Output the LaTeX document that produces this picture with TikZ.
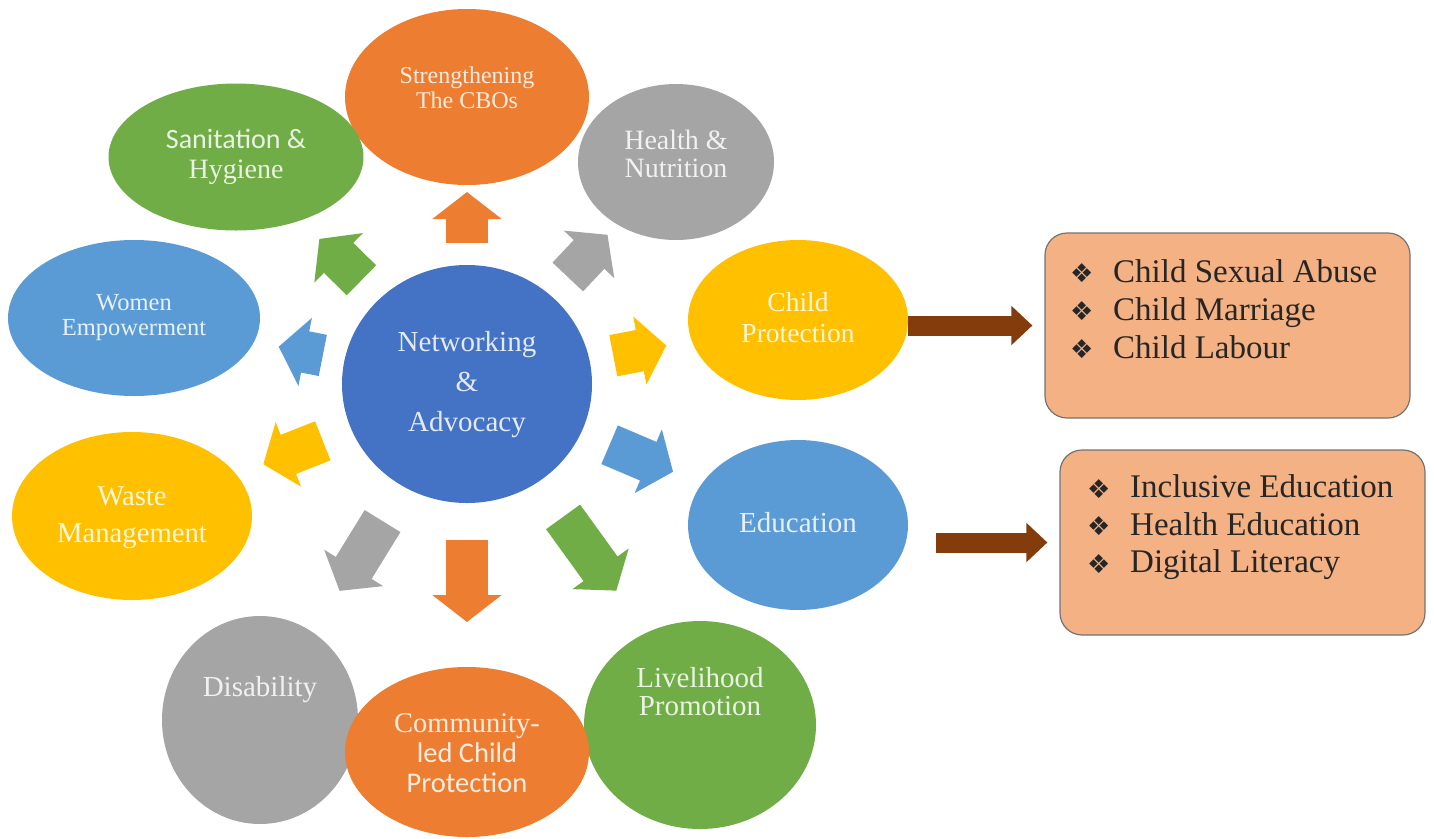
\documentclass[tikz,border=0pt]{standalone}
\usepackage{fontspec}
\setmainfont{Liberation Serif}
\newfontfamily\calib{Carlito}
\newfontfamily\djv{DejaVu Sans}
\usetikzlibrary{shapes.geometric,arrows.meta,calc}
\definecolor{orng}{HTML}{ED7D31}
\definecolor{gry}{HTML}{A5A5A5}
\definecolor{ylw}{HTML}{FFC000}
\definecolor{lblu}{HTML}{5B9BD5}
\definecolor{grn}{HTML}{70AD47}
\definecolor{dblu}{HTML}{4472C4}
\definecolor{peach}{HTML}{F4B183}
\definecolor{brwn}{HTML}{843C0C}
\newcommand\fs[2]{\fontsize{#1}{#2}\selectfont}
\newcommand\bul{\makebox[43pt][l]{\raisebox{-0.5pt}{\djv\fs{26}{26}\char"2756}}}

\begin{document}
\begin{tikzpicture}[x=1pt,y=-1pt,
  blob/.style={ellipse,fill=#1,inner sep=0pt},
  txt/.style={text=white!85!#1,align=center,inner sep=0pt},
  blk/.style={draw=#1,line width=42pt,-{Triangle[width=68pt,length=27pt]}},
  conn/.style={draw=brwn,line width=20pt,-{Triangle[width=38pt,length=21pt]},shorten >=12pt},
  list/.style={rectangle,rounded corners=22pt,fill=peach,draw=black!55,line width=1.2pt,inner sep=0pt},
  bullets/.style={anchor=north west,align=left,inner sep=0pt,text=black!85,font=\fs{33}{38}}]
\useasboundingbox (0,0) rectangle (1434,838);
% the ring of topics
\node[blob=dblu,minimum width=250pt,minimum height=238pt] (hub) at (467,384) {};
\node[blob=orng,minimum width=244pt,minimum height=176pt] (cbo) at (467,97) {};
\node[blob=gry,minimum width=196pt,minimum height=156pt] (health) at (676,162) {};
\node[blob=grn,minimum width=255pt,minimum height=147pt] (sanit) at (236,157) {};
\node[blob=lblu,minimum width=252pt,minimum height=156pt] (women) at (134,318) {};
\node[blob=ylw,minimum width=220pt,minimum height=160pt] (child) at (798,320) {};
\node[blob=ylw,minimum width=240pt,minimum height=168pt] (waste) at (132,516) {};
\node[blob=lblu,minimum width=220pt,minimum height=170pt] (educ) at (798,525) {};
\node[blob=gry,minimum width=196pt,minimum height=208pt] (disab) at (260,720) {};
\node[blob=grn,minimum width=232pt,minimum height=208pt] (liveli) at (700,725) {};
\node[blob=orng,minimum width=244pt,minimum height=170pt] (comm) at (467,752) {};
% labels
\node[txt=dblu,font=\fs{29}{40}] (hub-t) at (467,385) {Networking\\\&\\Advocacy};
\node[txt=orng,font=\fs{24}{25}] (cbo-t) at (467,88) {Strengthening\\The CBOs};
\node[txt=gry,font=\fs{28}{28}] (health-t) at (676,154) {Health \&\\Nutrition};
\node[txt=grn,font=\fs{28}{30}] (sanit-t) at (236,157) {{\calib Sanitation \&}\\Hygiene};
\node[txt=lblu,font=\fs{24.5}{25}] (women-t) at (134,318) {Women\\Empowerment};
\node[txt=ylw,font=\fs{27.5}{31}] (child-t) at (798,318) {Child\\Protection};
\node[txt=ylw,font=\fs{28.7}{37}] (waste-t) at (132,518) {Waste\\Management};
\node[txt=lblu,font=\fs{29}{30}] (educ-t) at (798,523) {Education};
\node[txt=gry,font=\fs{29}{30}] (disab-t) at (260,690) {Disability};
\node[txt=grn,font=\fs{29}{28}] (liveli-t) at (700,692) {Livelihood\\Promotion};
\node[txt=orng,font=\fs{28.5}{30}] (comm-t) at (467,753) {Community-\\{\calib led Child}\\{\calib Protection}};
% block arrows out of the hub
\foreach \to/\col/\a/\b in {cbo/orng/141/192,health/gry/147/205,child/ylw/149/203,
  educ/lblu/155/224,liveli.120/grn/164/255,comm/orng/156/238,disab/gry/161/243,
  waste/ylw/155/219,women/lblu/147/192,sanit/grn/148/207}
  \draw[blk=\col] ($(hub)!\a pt!(\to)$) -- ($(hub)!\b pt!(\to)$);
% the two lists
\node[list,minimum width=365pt,minimum height=185pt] (list1) at (1227.5,325.5) {};
\node[list,minimum width=365pt,minimum height=185pt] (list2) at (1242.5,542.5) {};
\node[bullets] (list1-t) at (1070,259) {\bul Child Sexual Abuse\\ \bul Child Marriage\\ \bul Child Labour};
\node[bullets,font=\fs{33}{37.5}] (list2-t) at (1087,474.5) {\bul Inclusive Education\\ \bul Health Education\\ \bul Digital Literacy};
\draw[conn] (child.east |- list1.west) -- (list1.west);
\draw[conn,shorten <=28pt] (educ.east |- list2.west) -- (list2.west);
\end{tikzpicture}
\end{document}
